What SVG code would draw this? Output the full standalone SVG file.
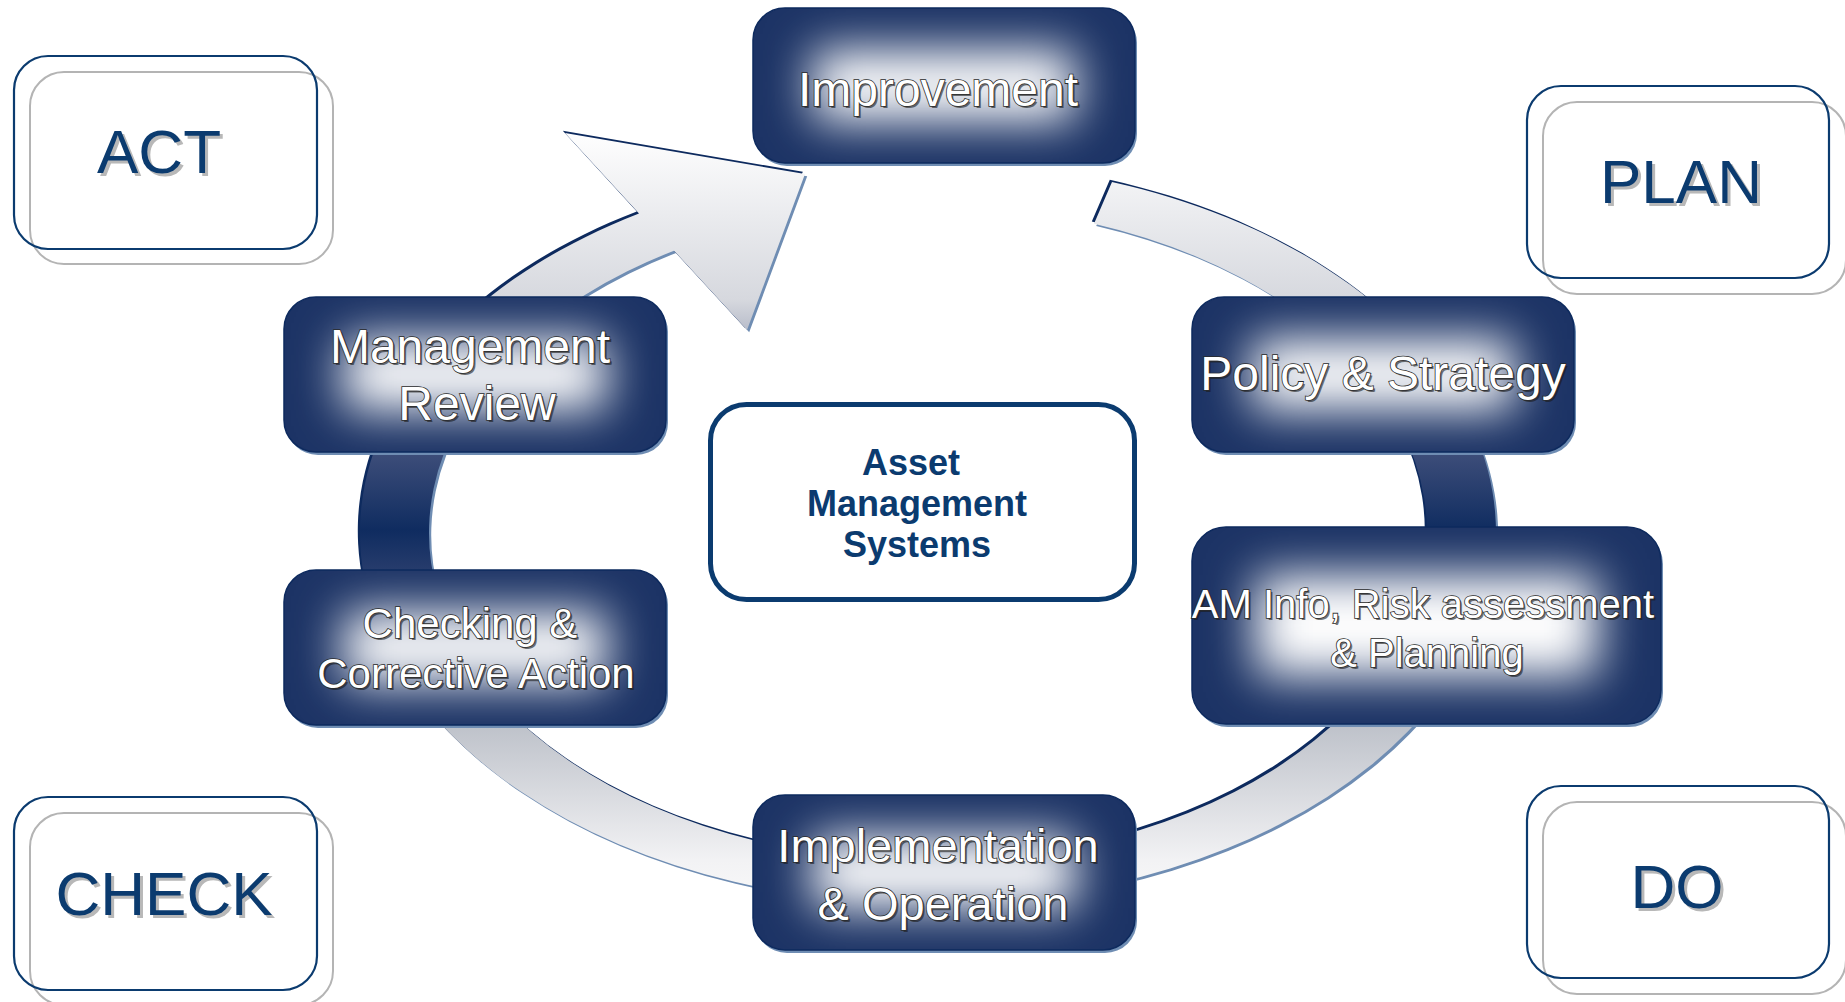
<svg xmlns="http://www.w3.org/2000/svg" width="1845" height="1002" viewBox="0 0 1845 1002">
<defs>
<filter id="glow" x="-50%" y="-80%" width="200%" height="260%">
<feGaussianBlur stdDeviation="24"/>
</filter>
<linearGradient id="bandGrad" gradientUnits="userSpaceOnUse" x1="0" y1="130" x2="0" y2="910">
<stop offset="0" stop-color="#ffffff"/>
<stop offset="0.218" stop-color="#d6d8de"/>
<stop offset="0.413" stop-color="#3e4e7a"/>
<stop offset="0.513" stop-color="#0f2c60"/>
<stop offset="0.571" stop-color="#2a3e6e"/>
<stop offset="0.763" stop-color="#bec2ca"/>
<stop offset="0.936" stop-color="#f2f2f4"/>
<stop offset="1" stop-color="#fafafa"/>
</linearGradient>
<path id="band" d="M1112,182 A568,371 0 1 1 639,213.6 L565,133 L805,174 L747,330 L674,250.7 A499,328 0 1 0 1094,223.7 Z"/>
<clipPath id="cImp"><rect x="753" y="8" width="382" height="155" rx="32"/></clipPath>
<clipPath id="cRev"><rect x="284" y="297" width="382" height="155" rx="32"/></clipPath>
<clipPath id="cChk"><rect x="284" y="570" width="382" height="155" rx="32"/></clipPath>
<clipPath id="cPol"><rect x="1192" y="297" width="382" height="155" rx="32"/></clipPath>
<clipPath id="cAmi"><rect x="1192" y="527" width="469" height="197" rx="34"/></clipPath>
<clipPath id="cImpl"><rect x="753" y="795" width="382" height="155" rx="32"/></clipPath>
</defs>
<style>
.pbox{fill:none;stroke:#0b3b6f;stroke-width:2.2}
.pshadow{fill:none;stroke:#b4b4b4;stroke-width:2}
.ptext{font-family:"Liberation Sans",Arial,sans-serif;font-size:62px;fill:#0b3b6f;text-anchor:middle}
.ptsh{font-family:"Liberation Sans",Arial,sans-serif;font-size:62px;fill:#b8b8b8;text-anchor:middle}
.nbase{fill:#1c3365}
.nglow{fill:#ffffff;filter:url(#glow)}
.nedge{fill:none;stroke:#0d2a5e;stroke-width:1.5}
.nsh{fill:#6f8db3}
.nt{font-family:"Liberation Sans",Arial,sans-serif;fill:#ffffff;stroke:#2a2a2a;stroke-width:1.6;paint-order:stroke;text-anchor:middle}
.nts{font-family:"Liberation Sans",Arial,sans-serif;fill:#1a1a1a;fill-opacity:0.6;text-anchor:middle}
.ctext{font-family:"Liberation Sans",Arial,sans-serif;font-weight:bold;font-size:36px;fill:#0b3b6f;text-anchor:middle}
</style>
<rect width="1845" height="1002" fill="#ffffff"/>

<g id="connectors">
<use href="#band" transform="translate(2.2,2.2)" fill="#6f8db3"/>
<use href="#band" transform="translate(-2.2,-2.2)" fill="#0d2a5e"/>
<use href="#band" fill="url(#bandGrad)"/>
</g>

<g id="label-act">
<rect class="pshadow" x="30" y="72" width="303" height="192" rx="34"/>
<rect class="pbox" x="14" y="56" width="303" height="193" rx="34"/>
<text class="ptsh" x="162" y="176">ACT</text>
<text class="ptext" x="159" y="173">ACT</text>
</g>
<g id="label-plan">
<rect class="pshadow" x="1543" y="102" width="303" height="192" rx="34"/>
<rect class="pbox" x="1527" y="86" width="302" height="192" rx="34"/>
<text class="ptsh" x="1684" y="206">PLAN</text>
<text class="ptext" x="1681" y="203">PLAN</text>
</g>
<g id="label-do">
<rect class="pshadow" x="1543" y="802" width="303" height="192" rx="34"/>
<rect class="pbox" x="1527" y="786" width="302" height="192" rx="34"/>
<text class="ptsh" x="1680" y="911">DO</text>
<text class="ptext" x="1677" y="908">DO</text>
</g>
<g id="label-check">
<rect class="pshadow" x="30" y="813" width="303" height="192" rx="34"/>
<rect class="pbox" x="14" y="797" width="303" height="193" rx="34"/>
<text class="ptsh" x="167" y="918">CHECK</text>
<text class="ptext" x="164" y="915">CHECK</text>
</g>

<g id="node-improvement">
<rect class="nsh" x="755" y="11" width="382" height="155" rx="32"/>
<g clip-path="url(#cImp)">
<rect class="nbase" x="753" y="8" width="382" height="155"/>
<rect class="nglow" x="813" y="50" width="262" height="71"/>
</g>
<rect class="nedge" x="753" y="8" width="382" height="155" rx="32"/>
<text class="nts" x="940" y="108" font-size="48">Improvement</text>
<text class="nt" x="938" y="106" font-size="48">Improvement</text>
</g>

<g id="node-review">
<rect class="nsh" x="286" y="300" width="382" height="155" rx="32"/>
<g clip-path="url(#cRev)">
<rect class="nbase" x="284" y="297" width="382" height="155"/>
<rect class="nglow" x="344" y="339" width="262" height="71"/>
</g>
<rect class="nedge" x="284" y="297" width="382" height="155" rx="32"/>
<text class="nts" x="472" y="365" font-size="48">Management</text>
<text class="nt" x="470" y="363" font-size="48">Management</text>
<text class="nts" x="479" y="422" font-size="48">Review</text>
<text class="nt" x="477" y="420" font-size="48">Review</text>
</g>

<g id="node-checking">
<rect class="nsh" x="286" y="573" width="382" height="155" rx="32"/>
<g clip-path="url(#cChk)">
<rect class="nbase" x="284" y="570" width="382" height="155"/>
<rect class="nglow" x="344" y="612" width="262" height="71"/>
</g>
<rect class="nedge" x="284" y="570" width="382" height="155" rx="32"/>
<text class="nts" x="472" y="640" font-size="42">Checking &amp;</text>
<text class="nt" x="470" y="638" font-size="42">Checking &amp;</text>
<text class="nts" x="478" y="690" font-size="42">Corrective Action</text>
<text class="nt" x="476" y="688" font-size="42">Corrective Action</text>
</g>

<g id="node-policy">
<rect class="nsh" x="1194" y="300" width="382" height="155" rx="32"/>
<g clip-path="url(#cPol)">
<rect class="nbase" x="1192" y="297" width="382" height="155"/>
<rect class="nglow" x="1252" y="339" width="262" height="71"/>
</g>
<rect class="nedge" x="1192" y="297" width="382" height="155" rx="32"/>
<text class="nts" x="1385" y="392" font-size="48">Policy &amp; Strategy</text>
<text class="nt" x="1383" y="390" font-size="48">Policy &amp; Strategy</text>
</g>

<g id="node-aminfo">
<rect class="nsh" x="1194" y="530" width="469" height="197" rx="34"/>
<g clip-path="url(#cAmi)">
<rect class="nbase" x="1192" y="527" width="469" height="197"/>
<rect class="nglow" x="1256" y="575" width="341" height="101"/>
</g>
<rect class="nedge" x="1192" y="527" width="469" height="197" rx="34"/>
<text class="nts" x="1425" y="620" font-size="40">AM Info, Risk assessment</text>
<text class="nt" x="1423" y="618" font-size="40">AM Info, Risk assessment</text>
<text class="nts" x="1429" y="669" font-size="40">&amp; Planning</text>
<text class="nt" x="1427" y="667" font-size="40">&amp; Planning</text>
</g>

<g id="node-implementation">
<rect class="nsh" x="755" y="798" width="382" height="155" rx="32"/>
<g clip-path="url(#cImpl)">
<rect class="nbase" x="753" y="795" width="382" height="155"/>
<rect class="nglow" x="813" y="837" width="262" height="71"/>
</g>
<rect class="nedge" x="753" y="795" width="382" height="155" rx="32"/>
<text class="nts" x="940" y="864" font-size="47">Implementation</text>
<text class="nt" x="938" y="862" font-size="47">Implementation</text>
<text class="nts" x="945" y="922" font-size="47">&amp; Operation</text>
<text class="nt" x="943" y="920" font-size="47">&amp; Operation</text>
</g>

<g id="node-center">
<rect x="710.5" y="404.5" width="424" height="195" rx="36" fill="#ffffff" stroke="#0b3b6f" stroke-width="5"/>
<text class="ctext" x="911" y="475">Asset</text>
<text class="ctext" x="917" y="516">Management</text>
<text class="ctext" x="917" y="557">Systems</text>
</g>
</svg>
